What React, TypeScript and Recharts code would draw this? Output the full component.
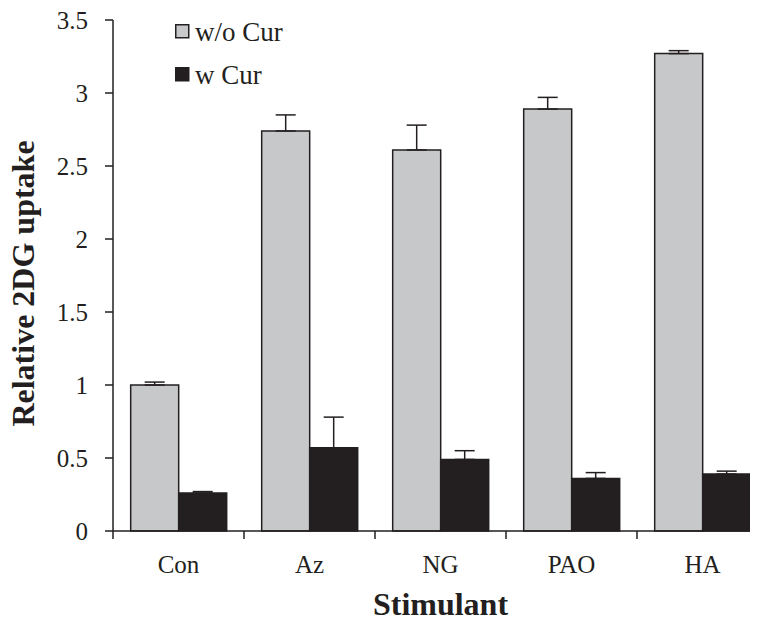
import React from 'react';
import { BarChart, Bar, XAxis, YAxis, ErrorBar, Legend } from 'recharts';

const categories = ['Con', 'Az', 'NG', 'PAO', 'HA'];
const withoutCur = [1.0, 2.74, 2.61, 2.89, 3.27];
const withoutCurErr = [0.02, 0.11, 0.17, 0.08, 0.02];
const withCur = [0.26, 0.57, 0.49, 0.36, 0.39];
const withCurErr = [0.01, 0.21, 0.06, 0.04, 0.02];
const yTicks = [0, 0.5, 1, 1.5, 2, 2.5, 3, 3.5];
const seriesNames = ['w/o Cur', 'w Cur'];

const GREY = '#c7c8ca';
const DARK = '#231f20';
const FONT = '"Liberation Serif", "Times New Roman", serif';

const data = categories.map((c, i) => ({
  name: c,
  wo: withoutCur[i],
  woErr: [0, withoutCurErr[i]],
  w: withCur[i],
  wErr: [0, withCurErr[i]],
}));

const CHART_W = 780;
const CHART_H = 613;
const MARGIN = { top: 12, right: 20, bottom: 0, left: 0 };
const Y_W = 105;
const X_H = 90;
const PLOT_W = CHART_W - MARGIN.left - MARGIN.right - Y_W;
const HALF_BAND = PLOT_W / categories.length / 2;

const XTick = (props: any) => {
  const { x, y, payload } = props;
  return (
    <g>
      <line x1={x - HALF_BAND} x2={x - HALF_BAND} y1={y} y2={y + 8} stroke={DARK} strokeWidth={1.5} />
      <text x={x} y={y + 42} textAnchor="middle" fontFamily={FONT} fontSize={25} fill={DARK}>
        {payload.value}
      </text>
    </g>
  );
};

const LegendContent = () => {
  const fills = [GREY, DARK];
  return (
    <svg width={260} height={80} style={{ display: 'block', overflow: 'visible' }}>
      {seriesNames.map((n, i) => (
        <g key={n} transform={`translate(0, ${i * 43})`}>
          <rect x={0.75} y={0.75} width={13} height={13} fill={fills[i]} stroke={DARK} strokeWidth={1.5} />
          <text x={20} y={17} fontFamily={FONT} fontSize={27} fill={DARK}>
            {n}
          </text>
        </g>
      ))}
    </svg>
  );
};

const YLabel = (props: any) => {
  const vb = props.viewBox || {};
  const cx = vb.x + 26;
  const cy = vb.y + vb.height / 2 + 8;
  return (
    <text
      x={cx}
      y={cy}
      transform={`rotate(-90, ${cx}, ${cy})`}
      textAnchor="middle"
      fontFamily={FONT}
      fontWeight="bold"
      fontSize={32}
      fill={DARK}
    >
      Relative 2DG uptake
    </text>
  );
};

const XLabel = (props: any) => {
  const vb = props.viewBox || {};
  const cx = vb.x + vb.width / 2;
  const cy = vb.y + 84;
  return (
    <text x={cx} y={cy} textAnchor="middle" fontFamily={FONT} fontWeight="bold" fontSize={32} fill={DARK}>
      Stimulant
    </text>
  );
};

export default function App() {
  return (
    <div style={{ width: 750, height: CHART_H, overflow: 'hidden' }}>
      <BarChart
        width={CHART_W}
        height={CHART_H}
        data={data}
        margin={MARGIN}
        barCategoryGap="13.5%"
        barGap={0}
      >
        <XAxis
          dataKey="name"
          height={X_H}
          axisLine={{ stroke: DARK, strokeWidth: 1.5 }}
          tickLine={false}
          tickSize={0}
          tickMargin={0}
          tick={<XTick />}
          interval={0}
          label={<XLabel />}
        />
        <YAxis
          width={Y_W}
          domain={[0, 3.5]}
          ticks={yTicks}
          interval={0}
          axisLine={{ stroke: DARK, strokeWidth: 1.5 }}
          tickLine={{ stroke: DARK, strokeWidth: 1.5 }}
          tickSize={8}
          tickMargin={17}
          tick={{ fontFamily: FONT, fontSize: 25, fill: DARK }}
          label={<YLabel />}
        />
        <Legend
          layout="vertical"
          align="center"
          verticalAlign="middle"
          content={<LegendContent />}
          wrapperStyle={{ top: 16, left: 167, width: 260, height: 80 }}
        />
        <Bar dataKey="wo" name={seriesNames[0]} fill={GREY} stroke={DARK} strokeWidth={1.5} isAnimationActive={false}>
          <ErrorBar dataKey="woErr" direction="y" width={10} stroke={DARK} strokeWidth={1.5} />
        </Bar>
        <Bar dataKey="w" name={seriesNames[1]} fill={DARK} stroke={DARK} strokeWidth={1.5} isAnimationActive={false}>
          <ErrorBar dataKey="wErr" direction="y" width={10} stroke={DARK} strokeWidth={1.5} />
        </Bar>
      </BarChart>
    </div>
  );
}
